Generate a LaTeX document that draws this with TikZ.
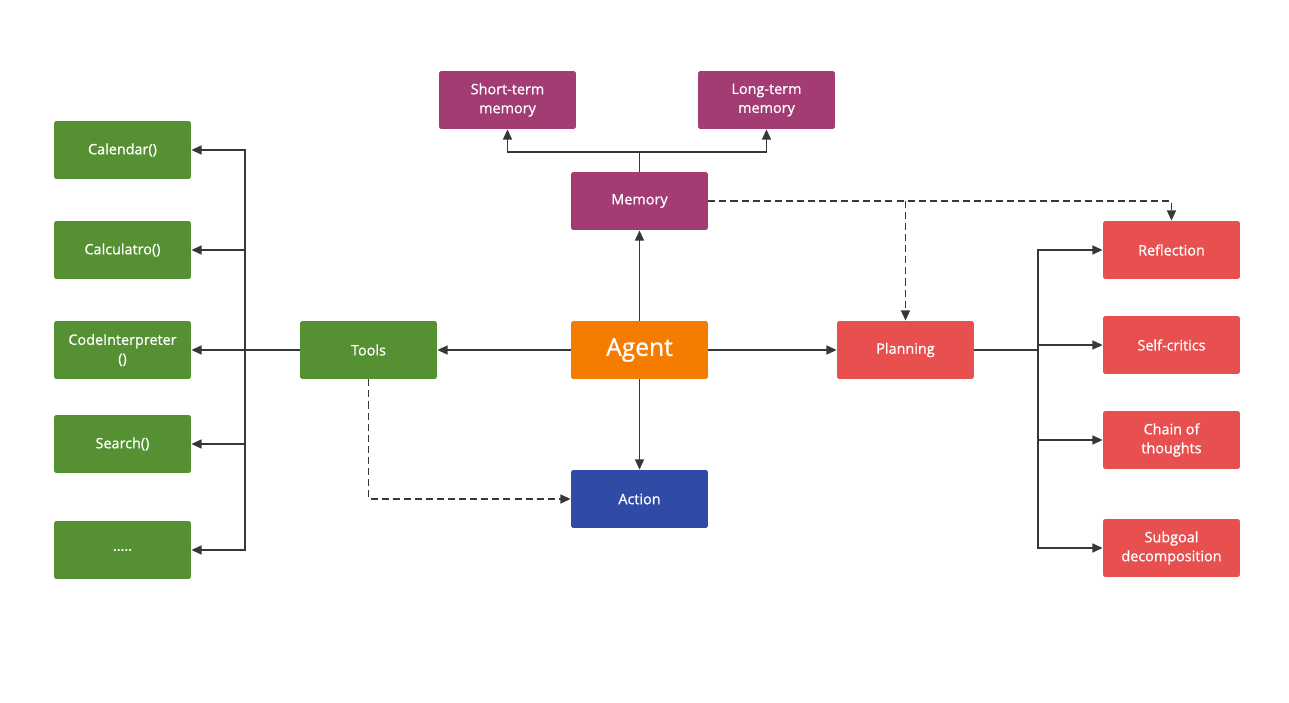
\documentclass[tikz,border=0pt]{standalone}
\usepackage{fontspec}
\setmainfont{Open Sans}
\newfontfamily\boxfont{Open Sans}[FakeBold=0.8]
\usetikzlibrary{arrows.meta,positioning}
\definecolor{toolgreen}{RGB}{85,145,50}
\definecolor{mempurple}{RGB}{162,60,114}
\definecolor{planred}{RGB}{232,80,80}
\definecolor{agentorange}{RGB}{245,124,0}
\definecolor{actblue}{RGB}{47,75,165}
\definecolor{linegray}{RGB}{55,55,55}
\tikzstyle{cbox}=[rectangle, minimum width=2.74cm, minimum height=1.16cm, inner sep=0pt, rounded corners=1pt, text=white, align=center, font=\boxfont\fontsize{8.2}{10.8}\selectfont]
\tikzstyle{cline}=[draw=linegray, line width=1.1pt]
\tikzstyle{conn}=[cline, -{Triangle[length=5.8pt,width=5pt]}]
\tikzstyle{dconn}=[conn, dash pattern=on 4pt off 2.3pt]

\begin{document}
\begin{tikzpicture}[x=0.02cm,y=-0.02cm]
	\useasboundingbox (0,0) rectangle (1289,703);
	% centre
	\node[cbox,fill=agentorange,font=\boxfont\fontsize{14}{16}\selectfont] (agent) at (639.5,350) {Agent};
	\node[cbox,fill=mempurple] (memory) at (639.5,201) {Memory};
	\node[cbox,fill=mempurple] (stm) at (507.5,100) {Short-term\\memory};
	\node[cbox,fill=mempurple] (ltm) at (766.5,100) {Long-term\\memory};
	\node[cbox,fill=toolgreen] (tools) at (368.5,350) {Tools};
	\node[cbox,fill=planred] (planning) at (905.5,350) {Planning};
	\node[cbox,fill=actblue] (action) at (639.5,499) {Action};
	% tools
	\node[cbox,fill=toolgreen] (tool1) at (122.5,150) {Calendar()};
	\node[cbox,fill=toolgreen] (tool2) at (122.5,250) {Calculatro()};
	\node[cbox,fill=toolgreen] (tool3) at (122.5,350) {CodeInterpreter\\()};
	\node[cbox,fill=toolgreen] (tool4) at (122.5,444) {Search()};
	\node[cbox,fill=toolgreen] (tool5) at (122.5,550) {.....};
	% planning
	\node[cbox,fill=planred] (plan1) at (1171.5,250) {Reflection};
	\node[cbox,fill=planred] (plan2) at (1171.5,345) {Self-critics};
	\node[cbox,fill=planred] (plan3) at (1171.5,440) {Chain of\\thoughts};
	\node[cbox,fill=planred] (plan4) at (1171.5,548) {Subgoal\\decomposition};

	\coordinate (mbus) at (639.5,152);
	\coordinate (tbus) at (245,350);
	\coordinate (pbus) at (1038,350);

	\draw[conn] (agent) -- (memory);
	\draw[conn] (agent) -- (tools);
	\draw[conn] (agent) -- (planning);
	\draw[conn] (agent) -- (action);

	\draw[cline] (memory.north) -- (mbus);
	\draw[conn] (mbus) -| (stm.south);
	\draw[conn] (mbus) -| (ltm.south);

	\draw[cline] (tools.west) -- (tbus);
	\foreach \t in {tool1,tool2,tool3,tool4,tool5}
		\draw[conn] (tbus) |- (\t.east);

	\draw[cline] (planning.east) -- (pbus);
	\foreach \p in {plan1,plan2,plan3,plan4}
		\draw[conn] (pbus) |- (\p.west);

	\draw[dconn] (memory.east) -| (plan1.north);
	\draw[dconn] (memory.east -| planning.north) -- (planning.north);
	\draw[dconn] (tools.south) |- (action.west);
\end{tikzpicture}
\end{document}
